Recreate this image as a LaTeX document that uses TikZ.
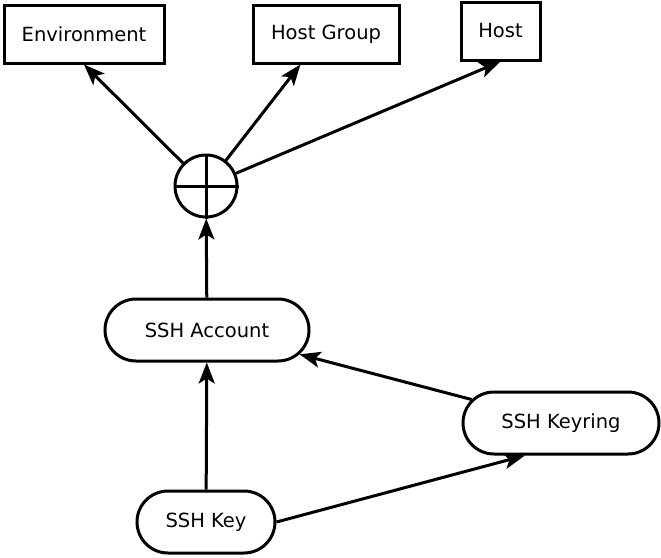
\documentclass[tikz,border=0pt]{standalone}
\usepackage{fontspec}
\setmainfont{DejaVu Sans}
\usetikzlibrary{shapes.misc,arrows.meta}

\tikzstyle{entity}=[draw,line width=3pt,rectangle,minimum height=58pt,inner sep=0pt,font=\fontsize{19.5}{22}\selectfont]
\tikzstyle{account}=[draw,line width=3pt,rounded rectangle,minimum height=62pt,inner sep=0pt,font=\fontsize{19.5}{22}\selectfont]
\tikzstyle{junction}=[draw,line width=3pt,circle,minimum size=62pt,inner sep=0pt]
\tikzstyle{edge} = [draw,line width=3pt,-{Stealth[length=21pt,width=16pt,inset=5pt]}]
\newcommand{\kmscale}{1}

\begin{document}
\begin{tikzpicture}[x=\kmscale pt, y=-\kmscale pt]
    \useasboundingbox (0,0) rectangle (661,557);
    % First we draw the entities
    \foreach \pos/\name/\boxw/\txt in {{(84,34)/env/160/Environment}, {(326,34)/hgroup/146/Host Group}, {(500.5,31)/host/79/Host}}
        \node[entity, minimum width=\boxw pt] (\name) at \pos {\txt};
    \foreach \pos/\name/\boxw/\txt in {{(207,330)/acct/204/SSH Account}, {(561,423)/ring/196/SSH Keyring}, {(206,522)/key/138/SSH Key}}
        \node[account, minimum width=\boxw pt] (\name) at \pos {\txt};
    % the circle with the cross
    \node[junction] (plus) at (206,186) {};
    \draw[line width=3pt] (plus.north) -- (plus.south) (plus.west) -- (plus.east);
    % Connect with arrows
    \foreach \source/\dest in {plus/env.south, plus/hgroup.230, plus/host.south, acct/plus, key/acct, ring/acct, key.east/ring.222}
        \path[edge] (\source) -- (\dest);
\end{tikzpicture}
\end{document}
